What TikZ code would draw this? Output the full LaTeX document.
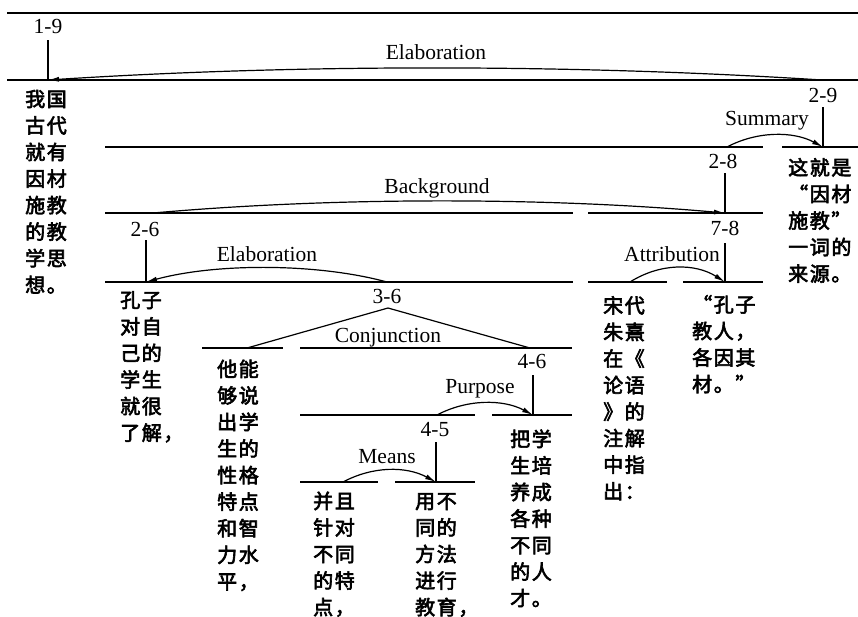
\documentclass[tikz,border=0pt]{standalone}
\usepackage{fontspec}
\setmainfont{Liberation Serif}
\newfontfamily\cjk[LetterSpace=8,FakeBold=3]{Noto Sans CJK SC}
\usetikzlibrary{arrows.meta}
\newcommand\ccol[1]{\vtop{\baselineskip=26.55pt\lineskiplimit=-50pt\lineskip=0pt #1}}
\begin{document}
\begin{tikzpicture}[x=1pt,y=-1pt,
  hline/.style={line width=1.4pt},
  vline/.style={line width=1.2pt},
  relarrow/.style={line width=1.2pt,-{Latex[length=11pt,width=5pt]}},
  lbl/.style={inner sep=0pt,anchor=base,font=\fontsize{21.5}{24}\selectfont},
  txt/.style={inner sep=0pt,anchor=base west,font=\cjk\fontsize{20}{26.55}\selectfont}]
\useasboundingbox (0,0) rectangle (858,616);
% horizontal rules
\draw[hline] (7,13) -- (858,13);
\draw[hline] (7,80) -- (858,80);
\draw[hline] (105,147) -- (763,147);
\draw[hline] (782,147) -- (858,147);
\draw[hline] (105,213) -- (573,213);
\draw[hline] (588,213) -- (763,213);
\draw[hline] (105,282) -- (573,282);
\draw[hline] (588,282) -- (667,282);
\draw[hline] (683,282) -- (763,282);
\draw[hline] (202,348) -- (283,348);
\draw[hline] (300,348) -- (572,348);
\draw[hline] (300,415) -- (475,415);
\draw[hline] (492,415) -- (572,415);
\draw[hline] (300,482) -- (378,482);
\draw[hline] (395,482) -- (475,482);
% span coordinates
\coordinate (t19) at (48,40);   \coordinate (n19) at (48,80);
\coordinate (t29) at (823,107); \coordinate (n29) at (823,147);
\coordinate (t28) at (725,173); \coordinate (n28) at (725,213);
\coordinate (t78) at (725,243); \coordinate (n78) at (725,282);
\coordinate (t26) at (146,240); \coordinate (n26) at (146,282);
\coordinate (n36) at (387,282); \coordinate (a36) at (388,308);
\coordinate (cjl) at (247,348); \coordinate (cjr) at (530,348);
\coordinate (t46) at (533,375); \coordinate (n46) at (533,415);
\coordinate (s45) at (437,415);
\coordinate (t45) at (436,442); \coordinate (n45) at (436,482);
\coordinate (s29) at (822,80);
\coordinate (s28) at (727,147);
\coordinate (s26) at (153,213);
\coordinate (s78) at (630,282);
\coordinate (s4) at (343,482);
% span labels
\node[lbl] (l19) at (48,33) {1-9};
\node[lbl] (l29) at (823,102) {2-9};
\node[lbl] (l28) at (723,168) {2-8};
\node[lbl] (l78) at (725,235) {7-8};
\node[lbl] (l26) at (145,236) {2-6};
\node[lbl] (l36) at (387,303) {3-6};
\node[lbl] (l46) at (532,368) {4-6};
\node[lbl] (l45) at (435,436) {4-5};
% relation labels
\node[lbl] (rElab1) at (436,59) {Elaboration};
\node[lbl] (rSum) at (767,125) {Summary};
\node[lbl] (rBack) at (437,193) {Background};
\node[lbl] (rElab2) at (267,261) {Elaboration};
\node[lbl] (rAttr) at (672,261) {Attribution};
\node[lbl] (rConj) at (388,342) {Conjunction};
\node[lbl] (rPurp) at (480,393) {Purpose};
\node[lbl] (rMeans) at (387,463) {Means};
% vertical stems
\draw[vline] (t19) -- (n19);
\draw[vline] (t29) -- (n29);
\draw[vline] (t28) -- (n28);
\draw[vline] (t78) -- (n78);
\draw[vline] (t26) -- (n26);
\draw[vline] (t46) -- (n46);
\draw[vline] (t45) -- (n45);
\draw[vline] (cjl) -- (a36) -- (cjr);
% relation arcs
\draw[relarrow] (s29) .. controls +(-250,-16) and +(250,-16) .. (n19);
\draw[relarrow] (s28) .. controls +(30,-16) and +(-30,-16) .. (n29);
\draw[relarrow] (s26) .. controls +(180,-16) and +(-180,-16) .. (n28);
\draw[relarrow] (n36) .. controls +(-70,-19) and +(70,-19) .. (n26);
\draw[relarrow] (s78) .. controls +(30,-19) and +(-30,-19) .. (n78);
\draw[relarrow] (s45) .. controls +(30,-16) and +(-30,-16) .. (n46);
\draw[relarrow] (s4) .. controls +(30,-16) and +(-30,-16) .. (n45);
% text units
\node[txt] (u1) at (25,106.5) {\ccol{\hbox{我国}\hbox{古代}\hbox{就有}\hbox{因材}\hbox{施教}\hbox{的教}\hbox{学思}\hbox{想。}}};
\node[txt] (u2) at (120,307.5) {\ccol{\hbox{孔子}\hbox{对自}\hbox{己的}\hbox{学生}\hbox{就很}\hbox{了解，}}};
\node[txt] (u3) at (217,376.5) {\ccol{\hbox{他能}\hbox{够说}\hbox{出学}\hbox{生的}\hbox{性格}\hbox{特点}\hbox{和智}\hbox{力水}\hbox{平，}}};
\node[txt] (u4) at (313,508.5) {\ccol{\hbox{并且}\hbox{针对}\hbox{不同}\hbox{的特}\hbox{点，}}};
\node[txt] (u5) at (415,508.5) {\ccol{\hbox{用不}\hbox{同的}\hbox{方法}\hbox{进行}\hbox{教育，}}};
\node[txt] (u6) at (510,446.5) {\ccol{\hbox{把学}\hbox{生培}\hbox{养成}\hbox{各种}\hbox{不同}\hbox{的人}\hbox{才。}}};
\node[txt] (u7) at (603,313) {\ccol{\hbox{宋代}\hbox{朱熹}\hbox{在《}\hbox{论语}\hbox{》的}\hbox{注解}\hbox{中指}\hbox{出：}}};
\node[txt] (u8) at (692,312) {\ccol{\hbox{“孔子}\hbox{教人，}\hbox{各因其}\hbox{材。”}}};
\node[txt] (u9) at (788,175) {\ccol{\hbox{这就是}\hbox{“因材}\hbox{施教”}\hbox{一词的}\hbox{来源。}}};
\end{tikzpicture}
\end{document}
